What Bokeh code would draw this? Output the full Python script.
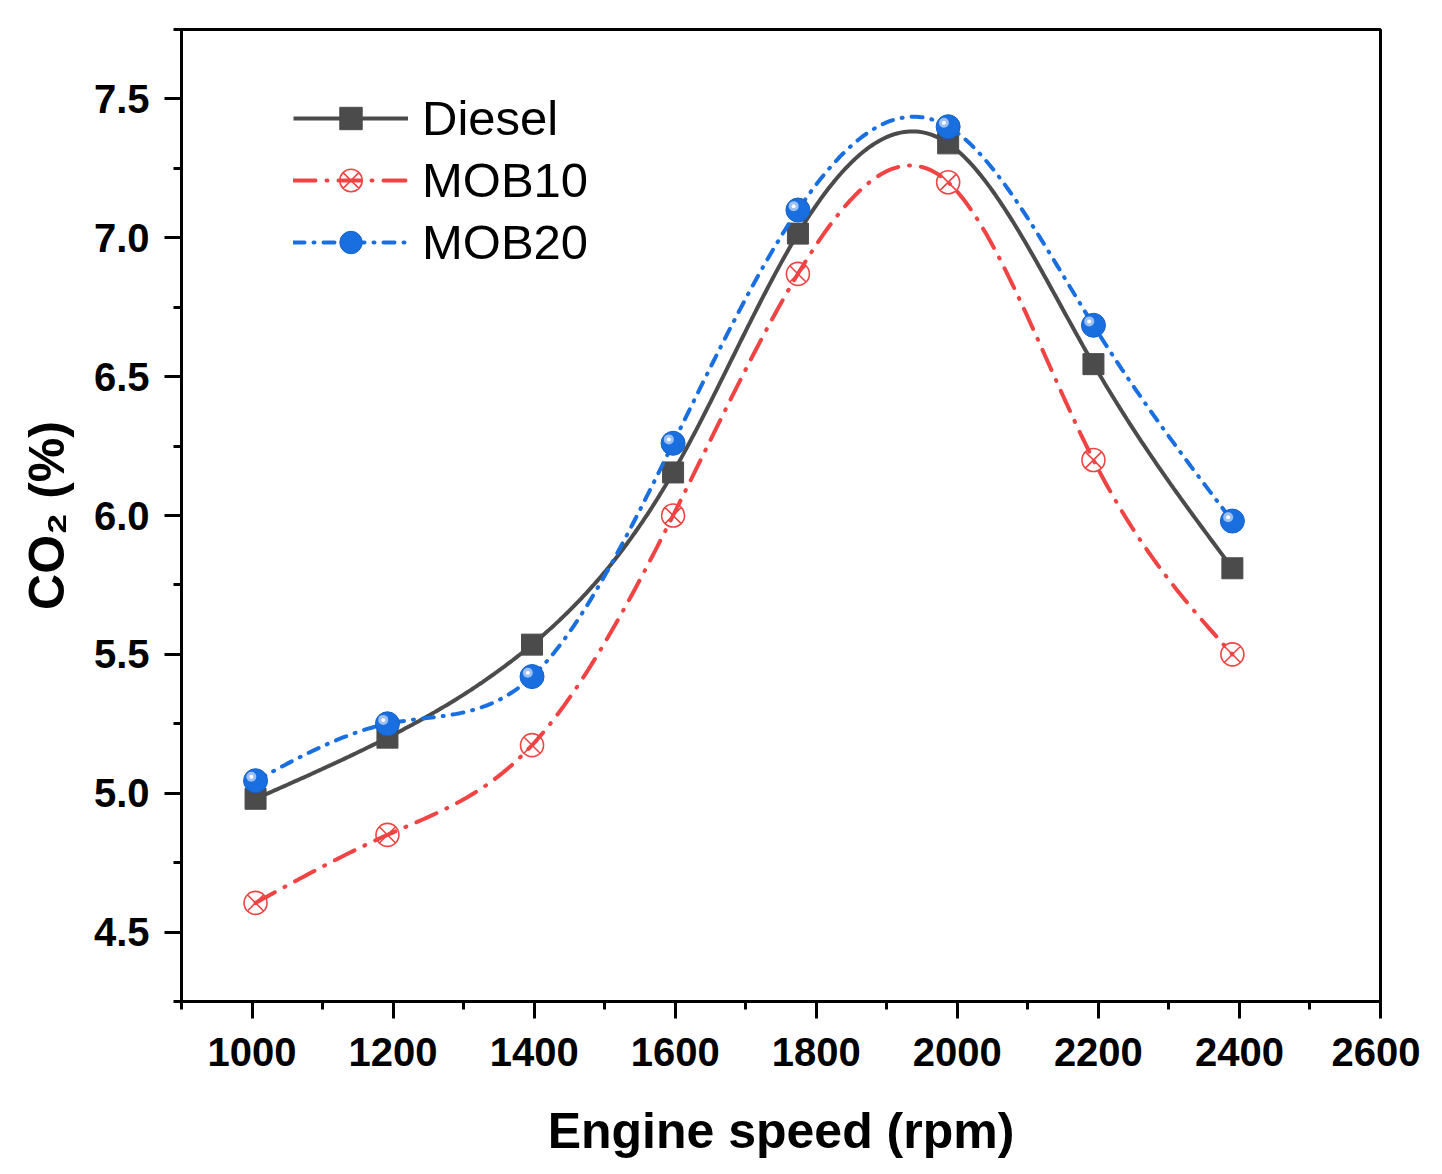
import numpy as np
from bokeh.plotting import figure
from bokeh.models import (ColumnDataSource, Legend, LegendItem, SingleIntervalTicker,
                          NumeralTickFormatter, Range1d)
from bokeh.transform import dodge
from bokeh.embed import file_html
from bokeh.resources import INLINE

# data
speed = [1005, 1192, 1397, 1597, 1774, 1987, 2193, 2390]
diesel = [4.98, 5.20, 5.535, 6.155, 7.015, 7.34, 6.545, 5.81]
mob10 = [4.605, 4.85, 5.173, 6.00, 6.87, 7.20, 6.20, 5.50]
mob20 = [5.045, 5.25, 5.42, 6.26, 7.10, 7.40, 6.685, 5.98]

FONT = "Liberation Sans"
GRAY = "#4b4b4b"
RED = "#f04343"
BLUE = "#1a6fe0"


def natural_spline(xs, ys, n=400):
    """Natural cubic spline through the data points (for the smooth line)."""
    x = np.asarray(xs, float)
    y = np.asarray(ys, float)
    h = np.diff(x)
    N = len(x)
    A = np.zeros((N, N))
    b = np.zeros(N)
    A[0, 0] = 1
    A[-1, -1] = 1
    for i in range(1, N - 1):
        A[i, i - 1] = h[i - 1]
        A[i, i] = 2 * (h[i - 1] + h[i])
        A[i, i + 1] = h[i]
        b[i] = 3 * ((y[i + 1] - y[i]) / h[i] - (y[i] - y[i - 1]) / h[i - 1])
    c = np.linalg.solve(A, b)
    bb = (y[1:] - y[:-1]) / h - h * (2 * c[:-1] + c[1:]) / 3
    d = (c[1:] - c[:-1]) / (3 * h)
    xx = np.linspace(x[0], x[-1], n)
    idx = np.clip(np.searchsorted(x, xx) - 1, 0, N - 2)
    t = xx - x[idx]
    yy = y[idx] + bb[idx] * t + c[idx] * t ** 2 + d[idx] * t ** 3
    return xx, yy


p = figure(width=1420, height=1161, output_backend="svg", toolbar_location=None,
           x_range=Range1d(900, 2600), y_range=Range1d(4.25, 7.75),
           min_border_left=181, min_border_right=40, min_border_top=29, min_border_bottom=149)
p.background_fill_color = "white"
p.border_fill_color = "white"
p.outline_line_color = "black"
p.outline_line_width = 3
p.xgrid.visible = False
p.ygrid.visible = False

# series
src_d = ColumnDataSource(dict(x=speed, y=diesel))
src_10 = ColumnDataSource(dict(x=speed, y=mob10))
src_20 = ColumnDataSource(dict(x=speed, y=mob20))

xs, ys = natural_spline(speed, mob10)
m10_pts = p.scatter("x", "y", source=src_10, marker="circle_x", size=23, fill_color=None,
                    line_color=RED, line_width=1.6)
m10_line = p.line(xs, ys, line_color=RED, line_width=4, line_dash="22 11 1 11", line_cap="round")

xs, ys = natural_spline(speed, diesel)
d_line = p.line(xs, ys, line_color=GRAY, line_width=4)
d_pts = p.scatter("x", "y", source=src_d, marker="square", size=21, fill_color=GRAY,
                  line_color=GRAY)

xs, ys = natural_spline(speed, mob20)
m20_line = p.line(xs, ys, line_color=BLUE, line_width=4, line_dash="11 9 1 9", line_cap="round")
m20_pts = p.scatter("x", "y", source=src_20, marker="circle", size=24, fill_color=BLUE,
                    line_color="#1560c8", line_width=1)
p.scatter(dodge("x", -6), dodge("y", 0.014), source=src_20, marker="circle", size=10,
          fill_color="#9cc0f5", line_color=None)
p.scatter(dodge("x", -6), dodge("y", 0.014), source=src_20, marker="circle", size=4,
          fill_color="white", line_color=None)

# axes
p.xaxis.ticker = SingleIntervalTicker(interval=200, num_minor_ticks=2)
p.yaxis.ticker = SingleIntervalTicker(interval=0.5, num_minor_ticks=2)
p.yaxis.formatter = NumeralTickFormatter(format="0.0")
p.xaxis.axis_label = "Engine speed (rpm)"
p.yaxis.axis_label = "CO₂ (%)"
for ax in (p.xaxis, p.yaxis):
    ax.axis_line_width = 3
    ax.major_tick_line_width = 3
    ax.minor_tick_line_width = 3
    ax.major_tick_out = 17
    ax.major_tick_in = 0
    ax.minor_tick_out = 8
    ax.minor_tick_in = 0
    ax.major_label_text_font = FONT
    ax.major_label_text_font_size = "40px"
    ax.major_label_text_font_style = "bold"
    ax.major_label_text_color = "black"
    ax.axis_label_text_font = FONT
    ax.axis_label_text_font_size = "50px"
    ax.axis_label_text_font_style = "bold"
    ax.axis_label_text_color = "black"
p.xaxis.major_label_standoff = 19
p.yaxis.major_label_standoff = 15
p.xaxis.axis_label_standoff = 34
p.yaxis.axis_label_standoff = 16

legend = Legend(items=[
    LegendItem(label="Diesel", renderers=[d_line, d_pts]),
    LegendItem(label="MOB10", renderers=[m10_line, m10_pts]),
    LegendItem(label="MOB20", renderers=[m20_line, m20_pts]),
], location=(112, 731))
legend.background_fill_alpha = 0
legend.border_line_color = None
legend.padding = 0
legend.margin = 0
legend.spacing = 6
legend.glyph_width = 115
legend.glyph_height = 56
legend.label_height = 56
legend.label_standoff = 14
legend.label_text_font = FONT
legend.label_text_font_size = "49px"
legend.label_text_color = "black"
p.add_layout(legend, "center")

open("out.html", "w").write(file_html(p, INLINE))
